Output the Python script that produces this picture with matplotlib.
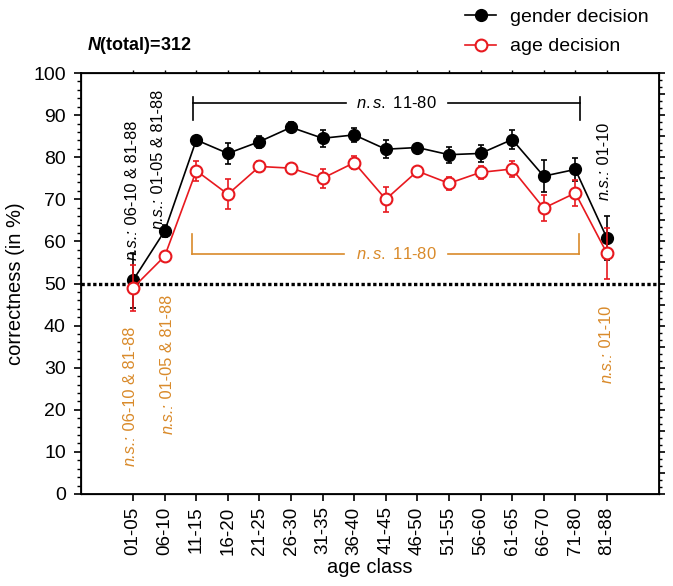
import numpy as np
import matplotlib
matplotlib.use("Agg")
import matplotlib.pyplot as plt
from matplotlib.ticker import MultipleLocator, AutoMinorLocator
from matplotlib.transforms import ScaledTranslation

# FONTS
plt.rcParams['font.family'] = ['Liberation Sans', 'DejaVu Sans']
plt.rcParams['mathtext.fontset'] = 'custom'
plt.rcParams['mathtext.rm'] = 'Liberation Sans'
plt.rcParams['mathtext.it'] = 'Liberation Sans:italic'
plt.rcParams['mathtext.bf'] = 'Liberation Sans:bold'
plt.rcParams['mathtext.bfit'] = 'Liberation Sans:bold:italic'

# DATA
age_classes = ["01-05", "06-10", "11-15", "16-20", "21-25", "26-30", "31-35", "36-40",
               "41-45", "46-50", "51-55", "56-60", "61-65", "66-70", "71-80", "81-88"]
gender_mean = [50.8, 62.5, 84.1, 80.9, 83.7, 87.1, 84.5, 85.3,
               81.9, 82.3, 80.6, 80.9, 84.2, 75.5, 77.1, 60.8]
gender_err = [6.5, 1.5, 1.0, 2.4, 1.4, 1.2, 2.0, 1.6,
              2.1, 0.8, 1.9, 2.0, 2.3, 3.8, 2.8, 5.3]
age_mean = [49.0, 56.5, 76.8, 71.2, 77.8, 77.4, 75.0, 78.7,
            70.0, 76.7, 73.8, 76.4, 77.2, 67.9, 71.5, 57.2]
age_err = [5.5, 1.0, 2.4, 3.6, 1.2, 0.6, 2.3, 1.5,
           2.9, 0.6, 1.6, 1.6, 2.0, 3.1, 3.2, 6.1]

chance_level = 50
n_total = 312

# significance brackets (x from, x to, y, tick low, tick high, text gap from, gap to, text x)
bracket_black = [2.88, 15.15, 92.8, 88.8, 94.3, 7.73, 10.97, 9.35]
bracket_orange = [2.85, 15.13, 56.9, 56.9, 61.8, 7.67, 10.97, 9.35]

# rotated n.s. labels: (x, y, text after "n.s.:")
ns_black = [(0.97, 55.6, " 06-10 & 81-88"),
            (1.80, 63.0, " 01-05 & 81-88"),
            (15.92, 69.8, " 01-10")]
ns_orange = [(0.92, 39.7, " 06-10 & 81-88"),
             (2.10, 47.3, " 01-05 & 81-88"),
             (16.0, 44.6, " 01-10")]

RED = '#e8191f'
ORANGE = '#d98a2a'
NS_SIZE = 11.8

x = np.arange(1, len(age_classes) + 1)

fig = plt.figure(figsize=(6.73, 5.86), dpi=100)
ax = fig.add_axes([0.1204, 0.157, 0.8588, 0.7184])
renderer = fig.canvas.get_renderer()

# chance level
ax.axhline(chance_level, color='black', lw=2.4, ls=(0, (1, 0.75)), zorder=1)

# gender decision
ax.errorbar(x, gender_mean, yerr=gender_err, fmt='none', ecolor='black',
            elinewidth=1.2, capsize=2.5, capthick=1.2, zorder=2)
ax.plot(x, gender_mean, '-o', color='black', lw=1.2, ms=8.5,
        label='gender decision', zorder=3)

# age decision
ax.errorbar(x, age_mean, yerr=age_err, fmt='none', ecolor=RED,
            elinewidth=1.2, capsize=2.5, capthick=1.2, zorder=4)
ax.plot(x, age_mean, '-o', color=RED, lw=1.2, ms=8.5, mfc='white',
        mec=RED, mew=1.5, label='age decision', zorder=5)

# brackets
x0, x1, yb, lo, hi, g0, g1, tx = bracket_black
ax.plot([x0, g0], [yb, yb], color='black', lw=1.2)
ax.plot([g1, x1], [yb, yb], color='black', lw=1.2)
ax.plot([x0, x0], [lo, hi], color='black', lw=1.2)
ax.plot([x1, x1], [lo, hi], color='black', lw=1.2)
ax.text(tx, yb, "$\\mathit{n.s.}$ 11-80", ha='center', va='center', fontsize=12)

x0, x1, yb, lo, hi, g0, g1, tx = bracket_orange
ax.plot([x0, g0], [yb, yb], color=ORANGE, lw=1.2)
ax.plot([g1, x1], [yb, yb], color=ORANGE, lw=1.2)
ax.plot([x0, x0], [lo, hi], color=ORANGE, lw=1.2)
ax.plot([x1, x1], [lo, hi], color=ORANGE, lw=1.2)
ax.text(tx, yb, "$\\mathit{n.s.}$ 11-80", ha='center', va='center',
        fontsize=12, color=ORANGE)

# rotated labels: italic "n.s.:" followed by upright text
for tx, ty, s in ns_black:
    t1 = ax.text(tx, ty, "n.s.:", rotation=90, ha='center', va='bottom',
                 fontsize=NS_SIZE, style='italic')
    h = t1.get_window_extent(renderer).height
    ax.text(tx, ty, s, rotation=90, ha='center', va='bottom', fontsize=NS_SIZE,
            transform=ax.transData + ScaledTranslation(0, h / fig.dpi, fig.dpi_scale_trans))

for tx, ty, s in ns_orange:
    t2 = ax.text(tx, ty, s, rotation=90, ha='center', va='top', fontsize=NS_SIZE,
                 color=ORANGE)
    h = t2.get_window_extent(renderer).height
    ax.text(tx, ty, "n.s.:", rotation=90, ha='center', va='top', fontsize=NS_SIZE,
            style='italic', color=ORANGE,
            transform=ax.transData + ScaledTranslation(0, -h / fig.dpi, fig.dpi_scale_trans))

# axes
ax.set_xlim(-0.65, 17.65)
ax.set_ylim(0, 100)
ax.set_xticks(x)
ax.set_xticklabels(age_classes, rotation=90, fontsize=13.5)
ax.yaxis.set_major_locator(MultipleLocator(10))
ax.yaxis.set_minor_locator(MultipleLocator(2))
ax.tick_params(axis='y', which='major', labelsize=14, length=5, width=1.2, pad=6)
ax.tick_params(axis='y', which='minor', length=3, width=1.0)
ax.tick_params(axis='x', which='major', length=5, width=1.2, pad=4)
for sp in ax.spines.values():
    sp.set_linewidth(1.3)

ax.set_xlabel("age class", fontsize=14.5, labelpad=2)
ax.set_ylabel("correctness (in %)", fontsize=14.5, labelpad=6)

# right axis
axr = ax.twinx()
axr.set_ylim(0, 100)
axr.yaxis.set_major_locator(MultipleLocator(5))
axr.yaxis.set_minor_locator(AutoMinorLocator(3))
axr.tick_params(axis='y', which='major', length=4, width=1.2, labelright=False)
axr.tick_params(axis='y', which='minor', length=2.5, width=1.0)

# top axis
axt = ax.twiny()
axt.set_xlim(ax.get_xlim())
axt.set_xticks(x)
axt.tick_params(axis='x', which='major', length=2.5, width=1.0, labeltop=False)

# title and legend
fig.text(87 / 673, 1 - 45 / 586, "$\\mathbfit{N}$(total)=312", fontsize=13,
         fontweight='bold', ha='left', va='center')
fig.legend(loc='upper left', bbox_to_anchor=(0.691, 0.986), frameon=False,
           fontsize=14, handlelength=1.6, handletextpad=0.7, labelspacing=0.62,
           borderpad=0, borderaxespad=0)

fig.savefig("out.png", dpi=100)
